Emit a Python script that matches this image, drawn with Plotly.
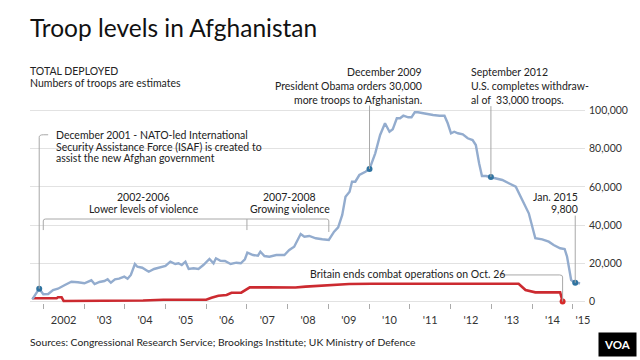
import plotly.graph_objects as go

# ---------------- data ----------------
us_years = [2001.73, 2001.90, 2002.00, 2002.12, 2002.24, 2002.36, 2002.53, 2002.69, 2002.85, 2003.01,
            2003.18, 2003.26, 2003.38, 2003.50, 2003.58, 2003.66, 2003.76, 2003.86, 2003.99, 2004.07,
            2004.15, 2004.25, 2004.31, 2004.43, 2004.55, 2004.59, 2004.72, 2004.88, 2005.00, 2005.12,
            2005.24, 2005.32, 2005.40, 2005.49, 2005.57, 2005.69, 2005.81, 2005.93, 2006.08, 2006.18,
            2006.24, 2006.35, 2006.46, 2006.60, 2006.74, 2006.85, 2006.95, 2007.01, 2007.15, 2007.27,
            2007.33, 2007.43, 2007.55, 2007.72, 2007.92, 2008.04, 2008.16, 2008.32, 2008.41, 2008.53,
            2008.69, 2008.85, 2009.01, 2009.14, 2009.24, 2009.34, 2009.42, 2009.52, 2009.58, 2009.66,
            2009.76, 2009.91, 2010.01, 2010.15, 2010.27, 2010.39, 2010.50, 2010.58, 2010.68, 2010.76,
            2010.84, 2010.96, 2011.04, 2011.12, 2011.20, 2011.33, 2011.45, 2011.57, 2011.73, 2011.85,
            2011.93, 2012.01, 2012.09, 2012.18, 2012.30, 2012.42, 2012.54, 2012.62, 2012.70, 2012.77,
            2012.87, 2012.99, 2013.11, 2013.27, 2013.43, 2013.60, 2013.76, 2013.92, 2014.08, 2014.25,
            2014.41, 2014.53, 2014.69, 2014.80, 2014.86, 2014.96, 2015.06, 2015.18]
us_troops = [1150, 6700, 3770, 3930, 6020, 6700, 8640, 10370, 10050, 9530,
             11100, 9160, 10210, 10730, 11620, 9840, 11620, 11940, 12990, 11940,
             13880, 19640, 18220, 17700, 16130, 15600, 17020, 17700, 18590, 20840,
             19640, 20000, 19110, 20840, 17020, 17380, 17020, 19110, 22250, 20000,
             22620, 21360, 21210, 19640, 20320, 20000, 22100, 25550, 24350, 23980,
             26080, 23820, 23460, 24350, 24350, 26970, 28690, 35340, 33930, 34300,
             33090, 32570, 32200, 36550, 38850, 45290, 54870, 57490, 62730, 62730,
             66230, 67960, 69380, 77600, 87180, 93310, 88910, 90160, 95920, 95920,
             97290, 96450, 96450, 99070, 99070, 98540, 98020, 97650, 97290, 97290,
             93310, 88070, 88910, 88070, 87550, 85450, 84560, 81940, 72360, 65710,
             65710, 65190, 64660, 63620, 61890, 60110, 53150, 46180, 33090, 32570,
             31310, 29580, 27860, 27490, 23460, 11260, 9800, 9530]

uk_years = [2001.73, 2002.33, 2002.36, 2002.45, 2002.50, 2004.00, 2004.45, 2004.95, 2005.85, 2006.00,
            2006.13, 2006.30, 2006.50, 2006.62, 2006.86, 2007.07, 2007.51, 2008.19, 2008.44, 2009.02,
            2009.51, 2010.07, 2013.67, 2013.84, 2014.08, 2014.69, 2014.75]
uk_troops = [1700, 1700, 2200, 2200, 300, 300, 500, 900, 900, 900,
             2000, 3000, 3400, 4600, 4600, 7400, 7400, 7300, 7800, 8600,
             9200, 9300, 9300, 6000, 4800, 4800, 0]

event_years = [2001.90, 2010.01, 2012.99, 2015.06]
event_troops = [6700, 69380, 65190, 9800]
uk_end_year = [2014.75]
uk_end_troops = [0]

year_tick_marks = list(range(2002, 2016))
year_label_pos = [2002.5, 2003.5, 2004.5, 2005.5, 2006.5, 2007.5, 2008.5, 2009.5, 2010.5,
                  2011.5, 2012.5, 2013.5, 2014.5, 2015.25]
year_labels = ["2002", "'03", "'04", "'05", "'06", "'07", "'08", "'09", "'10", "'11", "'12",
               "'13", "'14", "'15"]
troop_ticks = [0, 20000, 40000, 60000, 80000, 100000]
troop_tick_labels = ["0", "20,000", "40,000", "60,000", "80,000", "100,000"]

# ---------------- layout helpers ----------------
W, H = 640, 360
ML, MR, MT, MB = 30, 50, 60, 57
PW, PH = W - ML - MR, H - MT - MB
FONT = "Lato"
TXT = "#222222"


def pxp(x):
    return (x - ML) / PW


def pyp(y):
    return (H - MB - y) / PH


BLUE = "#93acce"
RED = "#cc2a30"
DOT_BLUE = "#2f73a0"
GREY = "#a8a8a8"

fig = go.Figure()
fig.add_trace(go.Scatter(x=uk_years, y=uk_troops, mode="lines",
                         line=dict(color=RED, width=2.6), hoverinfo="skip"))
fig.add_trace(go.Scatter(x=us_years, y=us_troops, mode="lines",
                         line=dict(color=BLUE, width=2.4), hoverinfo="skip"))
fig.add_trace(go.Scatter(x=event_years, y=event_troops, mode="markers", cliponaxis=False,
                         marker=dict(color=DOT_BLUE, size=6), hoverinfo="skip"))
fig.add_trace(go.Scatter(x=uk_end_year, y=uk_end_troops, mode="markers", cliponaxis=False,
                         marker=dict(color="#d62a2a", size=6), hoverinfo="skip"))

shapes = []
lw = dict(color=GREY, width=1)
# annotation leader lines (from each event point up to its text)
shapes.append(dict(type="path", xref="x", yref="y", line=lw,
                   path=f"M {event_years[0]},{event_troops[0]} L {event_years[0]},86000 "
                        f"Q {event_years[0]},87300 2002.0,87300 L 2002.12,87300"))
shapes.append(dict(type="line", xref="x", yref="y", line=lw,
                   x0=event_years[1], x1=event_years[1], y0=event_troops[1], y1=102600))
shapes.append(dict(type="line", xref="x", yref="y", line=lw,
                   x0=event_years[2], x1=event_years[2], y0=event_troops[2], y1=102300))
shapes.append(dict(type="line", xref="x", yref="y", line=lw,
                   x0=event_years[3], x1=event_years[3], y0=event_troops[3], y1=45000))
shapes.append(dict(type="path", xref="x", yref="y", line=lw,
                   path=f"M {uk_end_year[0]},{uk_end_troops[0]} L {uk_end_year[0]},12800 "
                        f"Q {uk_end_year[0]},13900 2014.68,13900 L 2013.22,13900"))
# period brackets
shapes.append(dict(type="path", xref="x", yref="y", line=lw,
                   path="M 2002.0,37400 L 2002.0,42200 Q 2002.0,43200 2002.06,43200 "
                        "L 2008.95,43200 Q 2009.01,43200 2009.01,42200 L 2009.01,36400"))
shapes.append(dict(type="line", xref="x", yref="y", line=lw,
                   x0=2007.0, x1=2007.0, y0=43200, y1=37400))

annotations = []


def ann(text, x, y, anchor="left", size=10.5, color=TXT, **kw):
    annotations.append(dict(text=text, x=pxp(x), y=pyp(y), xref="paper", yref="paper",
                            xanchor=anchor, yanchor="middle", showarrow=False,
                            font=dict(family=FONT, size=size, color=color), **kw))


ann("Troop levels in Afghanistan", 28, 27, size=24.5, color="#111111")
ann("TOTAL DEPLOYED", 28, 71)
ann("Numbers of troops are estimates", 28, 82.5)
ann("December 2001 - NATO-led International", 54, 135)
ann("Security Assistance Force (ISAF) is created to", 54, 146.5)
ann("assist the new Afghan government", 54, 158)
ann("2002-2006", 145, 197, anchor="center")
ann("Lower levels of violence", 145, 209.5, anchor="center")
ann("2007-2008", 292, 197, anchor="center")
ann("Growing violence", 292, 209.5, anchor="center")
ann("December 2009", 428, 72, anchor="right")
ann("President Obama orders 30,000", 428, 86, anchor="right")
ann("more troops to Afghanistan.", 428, 100, anchor="right")
ann("September 2012", 473, 72)
ann("U.S. completes withdraw-", 473, 86)
ann("al of  33,000 troops.", 473, 100)
ann("Jan. 2015", 585, 197, anchor="right")
ann("9,800", 585, 208.5, anchor="right")
ann("Britain ends combat operations on Oct. 26", 311, 274)
ann("Sources: Congressional Research Service; Brookings Institute; UK Ministry of Defence",
    28, 342, size=10.3)
ann("<b>VOA</b>", 623, 345, anchor="center", size=11.5, color="#ffffff",
    bgcolor="#000000", borderpad=5)

fig.update_layout(
    width=W, height=H,
    margin=dict(l=ML, r=MR, t=MT, b=MB, pad=0),
    paper_bgcolor="white", plot_bgcolor="white",
    showlegend=False,
    font=dict(family=FONT, color=TXT, size=11),
    shapes=shapes, annotations=annotations,
    xaxis=dict(range=[2001.674, 2015.30], tickmode="array", tickvals=year_label_pos,
               ticktext=year_labels, ticks="", showgrid=False, zeroline=False,
               showline=False, tickfont=dict(family=FONT, size=11, color="#333333"),
               ticklabelstandoff=9,
               minor=dict(tickmode="array", tickvals=year_tick_marks, ticks="outside",
                          ticklen=5, tickcolor="#aaaaaa", tickwidth=1, showgrid=False)),
    yaxis=dict(range=[-785, 126450], side="right", tickmode="array", tickvals=troop_ticks,
               ticktext=troop_tick_labels, ticks="", showgrid=True, gridcolor="#e2e2e2",
               gridwidth=1, zeroline=False, showline=False, ticklabelstandoff=3,
               tickfont=dict(family=FONT, size=10.5, color="#333333")),
)

fig.write_html("out.html", config={"displayModeBar": False},
               post_script="document.body.style.margin='0';document.body.style.overflow='hidden';")
